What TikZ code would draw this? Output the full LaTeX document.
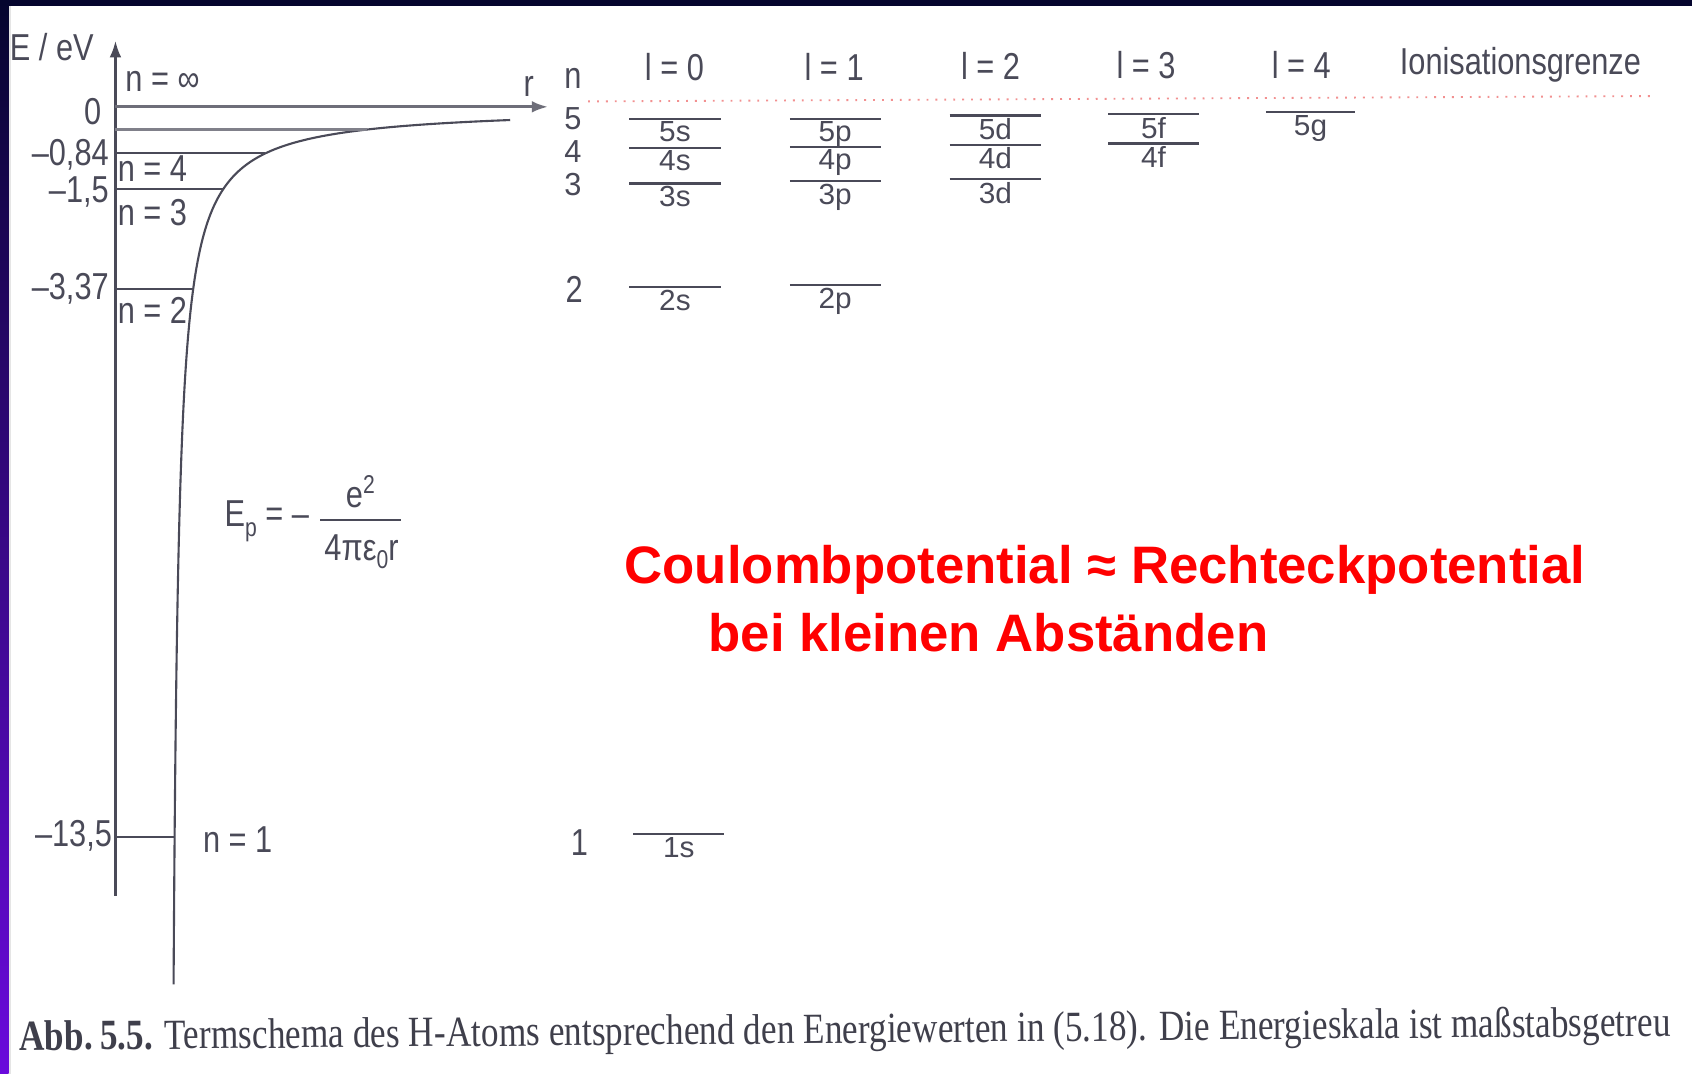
\documentclass[tikz,border=0pt]{standalone}
\usepackage{fontspec}
\setmainfont{Liberation Sans}
\newfontfamily\gf[FakeStretch=0.82]{Liberation Sans}
\newfontfamily\capf[FakeStretch=0.82]{Liberation Serif}
\usetikzlibrary{arrows.meta}
\definecolor{navy}{HTML}{05052E}
\definecolor{bandblue}{HTML}{1414A8}
\definecolor{bandpurple}{HTML}{6A0ADC}
\definecolor{ink}{HTML}{4A4A58}
\definecolor{redtxt}{HTML}{FF0000}
\definecolor{dotred}{HTML}{F29090}
\begin{document}
\begin{tikzpicture}[x=0.03237cm, y=-0.03237cm,
  lbl/.style={font=\gf\fontsize{32}{34}\selectfont, text=ink, inner sep=0pt},
  termlbl/.style={font=\gf\fontsize{31}{32}\selectfont, text=ink, inner sep=0pt},
  lev/.style={draw=ink, line width=1.8pt},
  axisline/.style={draw=ink, line width=1.8pt},
  redlbl/.style={font=\bfseries\fontsize{45}{50}\selectfont, text=redtxt, inner sep=0pt}]
% background
\useasboundingbox (0,0) rectangle (1568,995);
\fill[white] (0,0) rectangle (1568,995);
\shade[top color=navy, middle color=bandblue, bottom color=bandpurple] (0,0) rectangle (8,995);
\fill[black!10] (8,6) rectangle (10,995);
\fill[navy] (0,0) rectangle (1568,6);
% axis
\coordinate (ybot) at (107,830);
\coordinate (ytop) at (107,38);
\draw[axisline, -{Latex[length=14pt,width=10pt]}] (ybot) -- (ytop);
\coordinate (x0) at (107,99);
\coordinate (xr) at (508,99);
\draw[draw=ink!80, line width=2.6pt, -{Latex[length=14pt,width=10pt]}] (x0) -- (xr);
% curve
\draw[draw=ink, line width=1.8pt] plot[domain=-2.787:1.411, samples=300, variable=\v]
  ({156.1+77.3*exp(\v)}, {99+50.1*exp(-\v)});
% energy levels on curve
\draw[draw=ink!70, line width=2pt] (107,120) -- (340,120);
\foreach \yy/\xx in {142/246, 175/207, 268/179, 776/161.8} {
  \draw[lev] (107,\yy) -- (\xx,\yy);
}
% axis labels
\node[lbl] (eev) at (48,44) {E / eV};
\node[lbl, anchor=west] (ninf) at (116,75) {n = ∞};
\node[lbl] (rlab) at (490,80) {r};
\node[lbl, anchor=east] (e0) at (94,103) {0};
\node[lbl, anchor=east] (e4) at (101,143) {–0,84};
\node[lbl, anchor=east] (e3) at (101,178) {–1,5};
\node[lbl, anchor=east] (e2) at (101,268) {–3,37};
\node[lbl, anchor=east] (e1) at (104,775) {–13,5};
\node[lbl, anchor=west] (n4) at (109,156) {n = 4};
\node[lbl, anchor=west] (n3) at (109,197) {n = 3};
\node[lbl, anchor=west] (n2) at (109,288) {n = 2};
\node[lbl, anchor=west] (n1) at (188,778) {n = 1};
% formula
\node[lbl, anchor=west] (ep) at (208,483) {E\raisebox{-9pt}{\fontsize{22}{22}\selectfont p} = –};
\coordinate (fb1) at (297,482);
\coordinate (fb2) at (372,482);
\draw[draw=ink, line width=1.4pt] (fb1) -- (fb2);
\node[lbl] (num) at (334,456) {e\raisebox{12pt}{\fontsize{22}{22}\selectfont 2}};
\node[lbl] (den) at (335,511) {4πε\raisebox{-7pt}{\fontsize{22}{22}\selectfont 0}r};
% n column
\node[lbl] (nh) at (531,73) {n};
\node[lbl] (c5) at (531,110) {\scalebox{1}[0.85]{5}};
\node[lbl] (c4) at (531,140) {\scalebox{1}[0.85]{4}};
\node[lbl] (c3) at (531,171) {\scalebox{1}[0.85]{3}};
\node[lbl] (c2) at (532,268) {2};
\node[lbl] (c1) at (537,781) {1};
% l headers
\node[lbl] (l0) at (625,62) {l = 0};
\node[lbl] (l1) at (773,62) {l = 1};
\node[lbl] (l2) at (918,61) {l = 2};
\node[lbl] (l3) at (1062,60) {l = 3};
\node[lbl] (l4) at (1206,60) {l = 4};
\node[lbl] (ion) at (1409,60) {Ionisationsgrenze};
% dotted ionisation limit
\coordinate (d1) at (545,94);
\coordinate (d2) at (1535,89);
\draw[dotred, line width=1.6pt, dash pattern=on 1.6pt off 6pt] (d1) -- (d2);
% term levels
\foreach \xa/\xb/\yy/\tx in {583/668/110/5s, 583/668/137/4s, 583/668/170/3s, 583/668/266/2s, 587/671/773/1s,
  732/816/110/5p, 732/816/136/4p, 732/816/168/3p, 732/816/264/2p,
  880/965/107/5d, 880/965/134/4d, 880/965/166/3d,
  1027/1111/106/5f, 1027/1111/133/4f,
  1173/1256/104/5g} {
  \draw[lev] (\xa,\yy) -- (\xb,\yy);
  \node[termlbl, anchor=north] (t\tx) at ({(\xa+\xb)/2},{\yy+2.5}) {\scalebox{1}[0.8]{\tx}};
}
% red statement
\node[redlbl] (red1) at (1024,528) {Coulombpotential ≈ Rechteckpotential};
\node[redlbl] (red2) at (916,586) {bei kleinen Abständen};
% caption
\node[inner sep=0pt, text=ink!85!black, rotate=0.5] (cap) at (783,957)
  {\resizebox{1409pt}{!}{\capf\fontsize{30}{32}\selectfont\textbf{Abb.\,5.5.} Termschema des H-Atoms entsprechend den Energiewerten in (5.18). Die Energieskala ist maßstabsgetreu}};
\end{tikzpicture}
\end{document}
